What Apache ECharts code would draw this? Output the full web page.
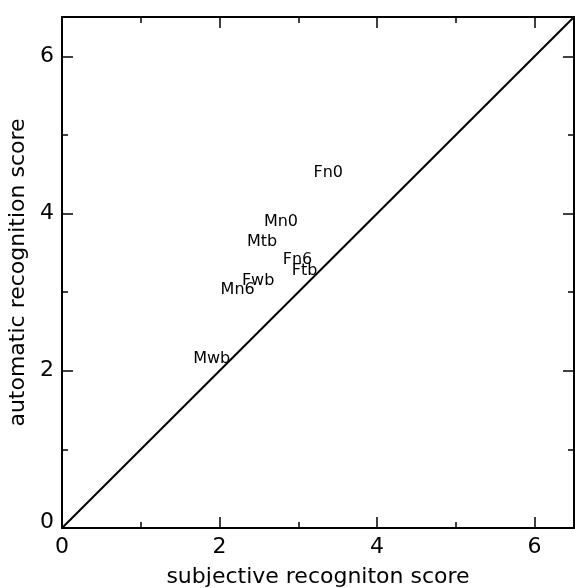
<!DOCTYPE html>
<html>
<head>
<meta charset="utf-8">
<script src="https://cdn.jsdelivr.net/npm/echarts@6/dist/echarts.min.js"></script>
<style>
  html, body { margin: 0; padding: 0; background: #fff; }
  #chart { width: 575px; height: 588px; }
</style>
</head>
<body>
<div id="chart"></div>
<script>
// speaker / condition codes
const names = ['Fn0', 'Mn0', 'Mtb', 'Fn6', 'Ftb', 'Fwb', 'Mn6', 'Mwb']
// subjective recognition score (x)
const subjective = [3.38, 2.78, 2.54, 2.99, 3.08, 2.49, 2.23, 1.90]
// automatic recognition score (y)
const automatic = [4.52, 3.90, 3.64, 3.41, 3.27, 3.15, 3.03, 2.15]
// y = x reference line
const diagonal = [[0, 0], [6.5, 6.5]]

const font = 'DejaVu Sans'

const points = names.map((n, i) => ({ name: n, value: [subjective[i], automatic[i]] }))

// shared axis look: box frame with inside ticks
const frameAxis = (extra) => Object.assign({
  type: 'value',
  min: 0,
  max: 6.5,
  interval: 2,
  splitLine: { show: false },
  axisLine: { show: true, onZero: false, lineStyle: { color: '#000', width: 2 } },
  axisTick: { show: true, inside: true, length: 11, lineStyle: { color: '#000', width: 1.5 } },
  minorTick: { show: true, splitNumber: 2, length: 6, lineStyle: { color: '#000', width: 1.5 } },
  minorSplitLine: { show: false }
}, extra)

const chart = echarts.init(document.getElementById('chart'))
chart.setOption({
  backgroundColor: '#fff',
  animation: false,
  grid: { left: 62, right: 1, top: 17, bottom: 60, containLabel: false, outerBoundsMode: 'none' },
  xAxis: [
    frameAxis({
      position: 'bottom',
      name: 'subjective recogniton score',
      nameLocation: 'middle',
      nameGap: 38,
      nameTextStyle: { color: '#000', fontFamily: font, fontSize: 22 },
      axisLabel: { color: '#000', fontFamily: font, fontSize: 22, margin: 8,
        showMaxLabel: false }
    }),
    frameAxis({ position: 'top', axisLabel: { show: false } })
  ],
  yAxis: [
    frameAxis({
      position: 'left',
      name: 'automatic recognition score',
      nameLocation: 'middle',
      nameGap: 28,
      nameTextStyle: { color: '#000', fontFamily: font, fontSize: 22 },
      axisLabel: {
        color: '#000', fontFamily: font, fontSize: 22, margin: 8,
        showMaxLabel: false,
        formatter: v => (v === 0 ? '{z|0}' : String(v)),
        rich: { z: { fontFamily: font, fontSize: 22, color: '#000', padding: [0, 0, 12, 0] } }
      }
    }),
    frameAxis({ position: 'right', axisLabel: { show: false } })
  ],
  series: [
    {
      type: 'line',
      data: diagonal,
      symbol: 'none',
      silent: true,
      lineStyle: { color: '#000', width: 2 }
    },
    {
      type: 'scatter',
      data: points,
      symbolSize: 0,
      itemStyle: { opacity: 1 },
      label: {
        show: true,
        position: 'inside',
        formatter: p => p.name,
        color: '#000',
        opacity: 1,
        fontFamily: font,
        fontSize: 16
      }
    }
  ]
})
</script>
</body>
</html>
